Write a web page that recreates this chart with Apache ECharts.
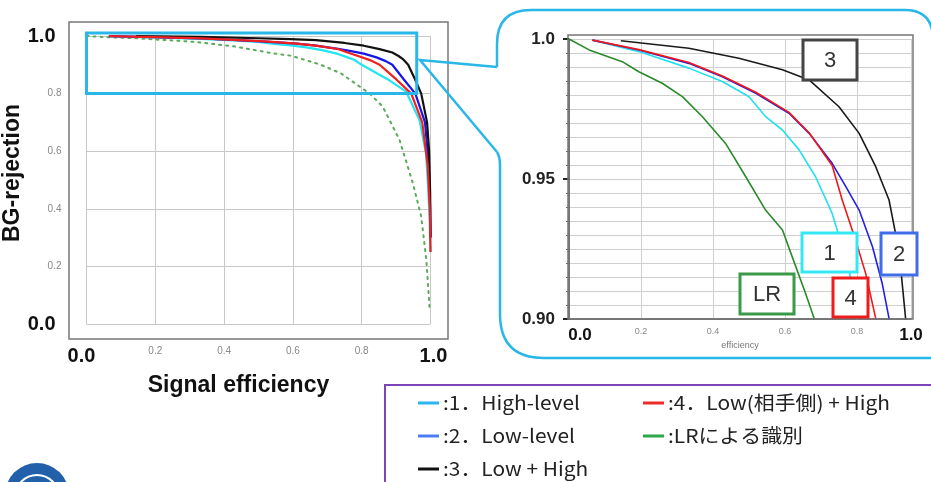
<!DOCTYPE html>
<html>
<head>
<meta charset="utf-8">
<script src="https://cdn.jsdelivr.net/npm/echarts@6/dist/echarts.min.js"></script>
<style>
  html, body { margin: 0; padding: 0; background: #fff; }
  #chart { width: 931px; height: 482px; }
</style>
</head>
<body>
<div id="chart"></div>
<script>
// ROC curves, points are [signal efficiency, BG rejection]
const highLevel = [[0.065, 0.9996], [0.194, 0.9955], [0.333, 0.9896], [0.426, 0.9848], [0.5, 0.9794], [0.546, 0.9723],
  [0.593, 0.9675], [0.639, 0.9604], [0.685, 0.9508], [0.731, 0.9377], [0.759, 0.9258], [0.778, 0.9175], [0.80, 0.9],
  [0.875, 0.85], [0.929, 0.807], [0.968, 0.708], [0.987, 0.593], [0.993, 0.477], [0.998, 0.35], [1.0, 0.25]]
const lowLevel = [[0.065, 0.9996], [0.194, 0.9961], [0.333, 0.9913], [0.426, 0.9865], [0.519, 0.9806], [0.611, 0.9735],
  [0.667, 0.9663], [0.731, 0.9556], [0.769, 0.9473], [0.806, 0.9389], [0.843, 0.9258], [0.87, 0.9127], [0.889, 0.9002],
  [0.922, 0.85], [0.956, 0.8], [0.984, 0.7], [0.995, 0.55], [0.999, 0.4], [1.0, 0.3]]
const lowPlusHigh = [[0.144, 0.9994], [0.333, 0.9967], [0.472, 0.9931], [0.593, 0.989], [0.667, 0.9854], [0.75, 0.9758],
  [0.806, 0.9663], [0.852, 0.9544], [0.889, 0.9425], [0.907, 0.9306], [0.921, 0.9187], [0.935, 0.9002],
  [0.955, 0.85], [0.973, 0.8], [0.99, 0.7], [0.996, 0.6], [0.999, 0.45], [1.0, 0.3]]
const lowOppPlusHigh = [[0.065, 0.9996], [0.194, 0.9962], [0.333, 0.9916], [0.426, 0.9868], [0.519, 0.981], [0.611, 0.9738],
  [0.667, 0.9665], [0.731, 0.9548], [0.759, 0.9425], [0.796, 0.9282], [0.824, 0.9163], [0.852, 0.9002],
  [0.9, 0.85], [0.944, 0.8], [0.976, 0.7], [0.992, 0.55], [0.998, 0.4], [1.0, 0.25]]
const lrCurve = [[0, 1.0], [0.056, 0.9961], [0.148, 0.9919], [0.194, 0.9883], [0.259, 0.9842], [0.315, 0.9794],
  [0.37, 0.9723], [0.435, 0.9627], [0.491, 0.9508], [0.546, 0.9389], [0.593, 0.9318], [0.63, 0.9187], [0.657, 0.9092],
  [0.681, 0.9002], [0.74, 0.87], [0.823, 0.8], [0.861, 0.755], [0.91, 0.639], [0.949, 0.488], [0.973, 0.373],
  [0.988, 0.222], [0.997, 0.06]]

const leftTicks = ['0.0', '0.2', '0.4', '0.6', '0.8', '1.0']
const zoomXTicks = ['0.0', '0.2', '0.4', '0.6', '0.8', '1.0']
const zoomYTicks = ['0.90', '0.95', '1.0']

const legendItems = [
  { text: ':1．High-level', color: '#2bb5ee' },
  { text: ':2．Low-level', color: '#4a7ef0' },
  { text: ':3．Low + High', color: '#111111' },
  { text: ':4．Low(相手側) + High', color: '#ee2a2a' },
  { text: ':LRによる識別', color: '#2aa84a' }
]

const chart = echarts.init(document.getElementById('chart'))
const fontMain = 'Liberation Sans, Arial, sans-serif'
const cyan = '#29b6e8'

const bigStyle = { fontFamily: fontMain, fontWeight: 'bold', color: '#111' }

const option = {
  animation: false,
  grid: [
    { left: 86.5, top: 36, width: 344, height: 288, outerBoundsMode: 'none', containLabel: false },
    { left: 569, top: 39, width: 342, height: 280, outerBoundsMode: 'none', containLabel: false }
  ],
  xAxis: [
    {
      gridIndex: 0, type: 'value', min: 0, max: 1, interval: 0.2,
      axisLine: { show: false }, axisTick: { show: false },
      splitLine: { lineStyle: { color: '#c8c8c8', width: 1 } },
      axisLabel: {
        margin: 22,
        formatter: (v, i) => (i === 0 ? '{bigL|' : i === 5 ? '{bigR|' : '{small|') + leftTicks[i] + '}',
        rich: {
          small: { fontSize: 10, color: '#888', fontFamily: fontMain },
          bigL: { ...bigStyle, fontSize: 20, padding: [0, 10, 0, 0] },
          bigR: { ...bigStyle, fontSize: 20, padding: [0, 0, 0, 6] }
        }
      },
      name: 'Signal efficiency', nameLocation: 'middle', nameGap: 50,
      nameTextStyle: { fontFamily: fontMain, fontWeight: 'bold', fontSize: 23, color: '#111', padding: [0, 40, 0, 0] }
    },
    {
      gridIndex: 1, type: 'value', min: 0, max: 0.95, interval: 0.2,
      axisLine: { show: true, lineStyle: { color: '#555', width: 1.5 } },
      axisTick: { show: false },
      splitLine: { lineStyle: { color: '#cfcfcf', width: 1 } },
      axisLabel: {
        margin: 8, showMaxLabel: true,
        formatter: (v, i) => (i === 0 ? '{bigL|' : i === 5 ? '{big|' : '{small|') + zoomXTicks[i] + '}',
        rich: {
          small: { fontSize: 9, color: '#888', fontFamily: fontMain },
          bigL: { ...bigStyle, fontSize: 17, padding: [0, 0, 0, 22] },
          big: { ...bigStyle, fontSize: 17 }
        }
      },
      name: 'efficiency', nameLocation: 'middle', nameGap: 22, nameMoveOverlap: false,
      nameTextStyle: { fontFamily: fontMain, fontSize: 9, color: '#777' }
    }
  ],
  yAxis: [
    {
      gridIndex: 0, type: 'value', min: 0, max: 1, interval: 0.2,
      axisLine: { show: false }, axisTick: { show: false },
      splitLine: { lineStyle: { color: '#c8c8c8', width: 1 } },
      axisLabel: {
        margin: 25,
        formatter: (v, i) => ((i === 0 || i === 5) ? '{big|' : '{small|') + leftTicks[i] + '}',
        rich: {
          small: { fontSize: 10, color: '#888', fontFamily: fontMain },
          big: { ...bigStyle, fontSize: 20, padding: [0, 6, 0, 0] }
        }
      },
      name: 'BG-rejection', nameLocation: 'middle', nameGap: 40, nameRotate: 90,
      nameTextStyle: { fontFamily: fontMain, fontWeight: 'bold', fontSize: 23, color: '#111', padding: [0, 0, 0, 14] }
    },
    {
      gridIndex: 1, type: 'value', min: 0.9, max: 1.0, interval: 0.05,
      axisLine: { show: true, lineStyle: { color: '#555', width: 1.5 } },
      axisTick: { show: true, length: 6, lineStyle: { color: '#222', width: 2 } },
      minorTick: { show: true, splitNumber: 10, length: 3, lineStyle: { color: '#666' } },
      splitLine: { lineStyle: { color: '#cfcfcf', width: 1 } },
      minorSplitLine: { show: true, lineStyle: { color: '#cfcfcf', width: 1 } },
      axisLabel: {
        margin: 14,
        formatter: (v, i) => zoomYTicks[i],
        fontFamily: fontMain, fontWeight: 'bold', fontSize: 17, color: '#222'
      }
    }
  ],
  series: []
}

const curves = [
  { data: highLevel, left: '#22e4f2', right: '#22e0f0' },
  { data: lowLevel, left: '#1616e6', right: '#2020e6' },
  { data: lowPlusHigh, left: '#111111', right: '#1a1a1a' },
  { data: lowOppPlusHigh, left: '#ee2020', right: '#f01818' },
  { data: lrCurve, left: '#5aaa5a', right: '#2a8a2a', dotted: true }
]

curves.forEach(c => {
  option.series.push({
    type: 'line', xAxisIndex: 0, yAxisIndex: 0, data: c.data, showSymbol: false, smooth: false,
    lineStyle: c.dotted ? { color: c.left, width: 2, type: [2, 5], cap: 'round' } : { color: c.left, width: 2.2 },
    z: c.dotted ? 2 : 3
  })
  option.series.push({
    type: 'line', xAxisIndex: 1, yAxisIndex: 1, data: c.data, showSymbol: false, smooth: false,
    lineStyle: { color: c.right, width: 1.6 }
  })
})

chart.setOption(option)

// annotations
const p1 = chart.convertToPixel({ gridIndex: 0 }, [0, 1.01])
const p2 = chart.convertToPixel({ gridIndex: 0 }, [0.96, 0.8])

const labelBox = (x, y, w, h, color, text) => ([
  { type: 'rect', z: 100, shape: { x, y, width: w, height: h }, style: { fill: '#fff', stroke: color, lineWidth: 3 } },
  { type: 'text', z: 101, style: { x: x + w / 2, y: y + h / 2 + 1, text, fill: '#333', font: '22px Liberation Sans, Arial, sans-serif', align: 'center', verticalAlign: 'middle' } }
])

const bubbleStyle = { fill: 'none', stroke: cyan, lineWidth: 2.5 }
const curve = (x1, y1, cpx1, cpy1, x2, y2) =>
  ({ type: 'bezierCurve', z: 100, shape: { x1, y1, cpx1, cpy1, x2, y2 }, style: bubbleStyle })

const graphics = [
  // plot frames
  { type: 'rect', z: 50, shape: { x: 69, y: 22, width: 379, height: 317 }, style: { fill: 'none', stroke: '#777', lineWidth: 1.5 } },
  { type: 'rect', z: 50, shape: { x: 568, y: 35, width: 345, height: 284 }, style: { fill: 'none', stroke: '#777', lineWidth: 1.5 } },
  // zoomed region
  { type: 'rect', z: 100, shape: { x: p1[0], y: p1[1], width: p2[0] - p1[0], height: p2[1] - p1[1] }, style: { fill: 'none', stroke: cyan, lineWidth: 3 } },
  // callout bubble
  { type: 'polyline', z: 100, shape: { points: [[497, 67], [497, 44]] }, style: bubbleStyle },
  curve(497, 44, 497, 10, 531, 10),
  { type: 'polyline', z: 100, shape: { points: [[531, 10], [905, 10]] }, style: bubbleStyle },
  curve(905, 10, 931, 10, 933, 36),
  { type: 'polyline', z: 100, shape: { points: [[497, 67], [420, 60], [497, 152]] }, style: bubbleStyle },
  curve(497, 152, 500, 157, 500, 165),
  { type: 'polyline', z: 100, shape: { points: [[500, 165], [500, 314]] }, style: bubbleStyle },
  curve(500, 314, 500, 358, 544, 358),
  { type: 'polyline', z: 100, shape: { points: [[544, 358], [935, 358]] }, style: bubbleStyle },
  // curve labels
  ...labelBox(803, 40, 54, 40, '#444', '3'),
  ...labelBox(802, 233, 55, 39, '#33e8f5', '1'),
  ...labelBox(881, 233, 36, 42, '#3f6fe8', '2'),
  ...labelBox(833, 278, 35, 39, '#ee1c1c', '4'),
  ...labelBox(740, 274, 54, 40, '#3a9a4a', 'LR'),
  // legend box
  { type: 'rect', z: 100, shape: { x: 385, y: 385, width: 560, height: 110 }, style: { fill: '#fff', stroke: '#7e45b8', lineWidth: 2 } },
  // logo
  { type: 'circle', z: 100, shape: { cx: 37, cy: 495, r: 32 }, style: { fill: '#2260aa' } },
  { type: 'circle', z: 100, shape: { cx: 37, cy: 497, r: 22 }, style: { fill: '#2260aa', stroke: '#fff', lineWidth: 2 } }
]

const legendPos = [[418, 403], [418, 436], [418, 469], [643, 403], [643, 436]]
legendItems.forEach((it, i) => {
  const [x, y] = legendPos[i]
  graphics.push({ type: 'line', z: 101, shape: { x1: x, y1: y, x2: x + 21, y2: y }, style: { stroke: it.color, lineWidth: 3 } })
  graphics.push({
    type: 'text', z: 101, x: x + 25, y, scaleX: 1.1,
    style: { x: 0, y: 0, text: it.text, fill: '#222', font: '19px Noto Sans CJK JP, Noto Sans, sans-serif', verticalAlign: 'middle' }
  })
})

chart.setOption({ graphic: graphics })
</script>
</body>
</html>
